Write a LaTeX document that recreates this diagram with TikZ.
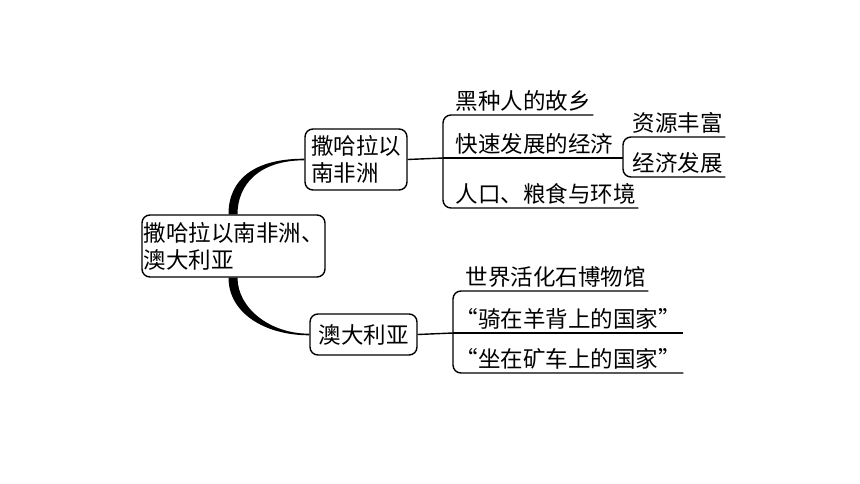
\documentclass[tikz,border=0pt]{standalone}
\usepackage{fontspec}
\setmainfont{Noto Sans CJK SC}
\usetikzlibrary{calc}
\begin{document}
\begin{tikzpicture}[x=1pt,y=-1pt,line width=1.4pt,font=\fontsize{22.5}{27}\selectfont,
	topic/.style={draw,rounded corners=8pt,align=left,inner sep=0pt,fill=white},
	leaf/.style={inner xsep=2pt,inner ysep=3pt,anchor=south west}]
			\useasboundingbox (0,0) rectangle (860,484);
			\node[topic,minimum width=183,minimum height=62] at (233.5,246) (root) {撒哈拉以南非洲、\\澳大利亚};
			\node[topic,minimum width=102,minimum height=61] at (356,159.5) (africa) {撒哈拉以\\南非洲};
			\node[topic,minimum width=107,minimum height=41] at (363.5,334.5) (aus) {澳大利亚};
			
			\coordinate (j1) at (443,158);
			\coordinate (j2) at (623,158);
			\coordinate (j3) at (453,333);
			
			\node[leaf] at (453,115) (a1) {黑种人的故乡};
			\node[leaf] at (453,158) (a2) {快速发展的经济};
			\node[leaf] at (453,208) (a3) {人口、粮食与环境};
			\node[leaf] at (630,137) (b1) {资源丰富};
			\node[leaf] at (630,177) (b2) {经济发展};
			\node[leaf] at (463,291) (c1) {世界活化石博物馆};
			\node[leaf] at (453,333) (c2) {“骑在羊背上的国家”};
			\node[leaf] at (453,373) (c3) {“坐在矿车上的国家”};
			
			\fill ($(africa.west)+(0,-0.8)$) .. controls +(-50,0) and +(0,-35) .. ($(root.north)+(-5,0)$)
				-- ($(root.north)+(4,0)$) .. controls +(0,-30) and +(-45,0) .. ($(africa.west)+(0,0.8)$) -- cycle;
			\fill ($(root.south)+(-5,0)$) .. controls +(0,35) and +(-45,0) .. ($(aus.west)+(0,0.8)$)
				-- ($(aus.west)+(0,-0.8)$) .. controls +(-40,0) and +(0,30) .. ($(root.south)+(4,0)$) -- cycle;
			
			\draw (africa.east) -- (j1);
			\draw[rounded corners=8pt] (j1) |- (a1.south east);
			\draw (j1) |- (a2.south east) -- (j2);
			\draw[rounded corners=8pt] (j1) |- (a3.south east);
			\draw[rounded corners=8pt] (j2) |- (b1.south east);
			\draw[rounded corners=8pt] (j2) |- (b2.south east);
			\draw (aus.east) -- (j3);
			\draw[rounded corners=8pt] (j3) |- (c1.south east);
			\draw (j3) |- (c2.south east);
			\draw[rounded corners=8pt] (j3) |- (c3.south east);
			\end{tikzpicture}
\end{document}
